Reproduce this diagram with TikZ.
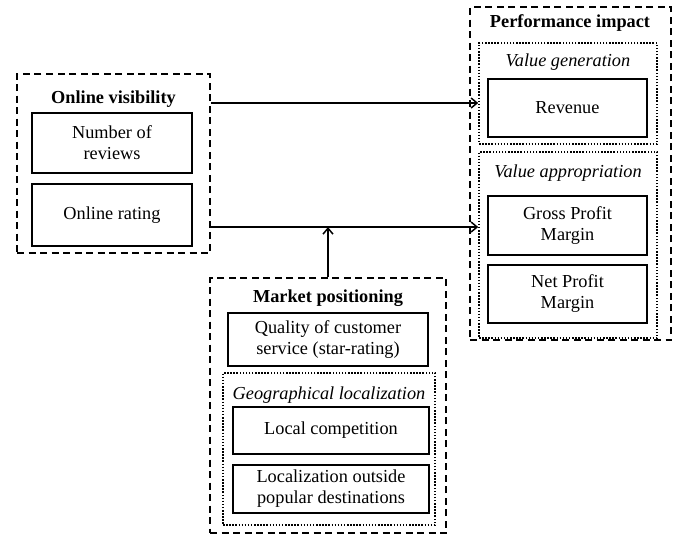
\documentclass[tikz,border=0pt]{standalone}
\usepackage{fontspec}
\setmainfont{Liberation Serif}
\usetikzlibrary{arrows.meta}
\begin{document}
\begin{tikzpicture}[x=1pt,y=-1pt,
  every node/.style={font=\fontsize{18.3}{21}\selectfont, align=center, inner sep=0pt},
  solidbox/.style={draw, line width=2pt, rectangle},
  dashbox/.style={draw, line width=1.7pt, dash pattern=on 7pt off 4.5pt, rectangle},
  dotbox/.style={draw, line width=1.5pt, dash pattern=on 1.5pt off 1.6pt, rectangle},
  title/.style={font=\fontsize{18.3}{21}\selectfont\bfseries},
  sub/.style={font=\fontsize{18.3}{21}\selectfont\itshape},
  conn/.style={line width=1.8pt, -{Straight Barb[length=6pt,width=10pt,line width=1.5pt]}}
]
\useasboundingbox (0,0) rectangle (673,536);

% Online visibility
\node[dashbox, minimum width=193, minimum height=179] (ov) at (113.5,163.5) {};
\node[title] (ovt) at (113.5,99) {Online visibility};
\node[solidbox, minimum width=160, minimum height=60] (nr) at (112,143) {Number of\\reviews};
\node[solidbox, minimum width=160, minimum height=62] (or) at (112,215) {Online rating};

% Performance impact
\node[dashbox, minimum width=201, minimum height=333] (pi) at (570.5,173.5) {};
\node[title] (pit) at (570,23) {Performance impact};
\node[dotbox, minimum width=178, minimum height=101] (vg) at (568,93.5) {};
\node[sub] (vgt) at (568,62) {Value generation};
\node[solidbox, minimum width=159, minimum height=58] (rev) at (567.5,108) {Revenue};
\node[dotbox, minimum width=178, minimum height=186] (va) at (568,245) {};
\node[sub] (vat) at (568,173) {Value appropriation};
\node[solidbox, minimum width=159, minimum height=59] (gpm) at (567.5,225.5) {Gross Profit\\Margin};
\node[solidbox, minimum width=159, minimum height=58] (npm) at (567.5,294) {Net Profit\\Margin};

% Market positioning
\node[dashbox, minimum width=236, minimum height=255] (mp) at (328,405.5) {};
\node[title] (mpt) at (328,298) {Market positioning};
\node[solidbox, minimum width=200, minimum height=53] (q) at (328,339.5) {Quality of customer\\service (star-rating)};
\node[dotbox, minimum width=212, minimum height=152] (gl) at (329,449) {};
\node[sub] (glt) at (329,395) {Geographical localization};
\node[solidbox, minimum width=196, minimum height=47] (lc) at (331,430.5) {Local competition};
\node[solidbox, minimum width=196, minimum height=48] (lo) at (331,489) {Localization outside\\popular destinations};

% connectors
\coordinate (y1) at (0,103);
\coordinate (y2) at (0,227);
\draw[conn] (ov.east |- y1) -- (vg.west |- y1);
\draw[conn] (ov.east |- y2) -- (va.west |- y2);
\draw[conn] (mp.north) -- (mp.north |- y2);
\end{tikzpicture}
\end{document}
